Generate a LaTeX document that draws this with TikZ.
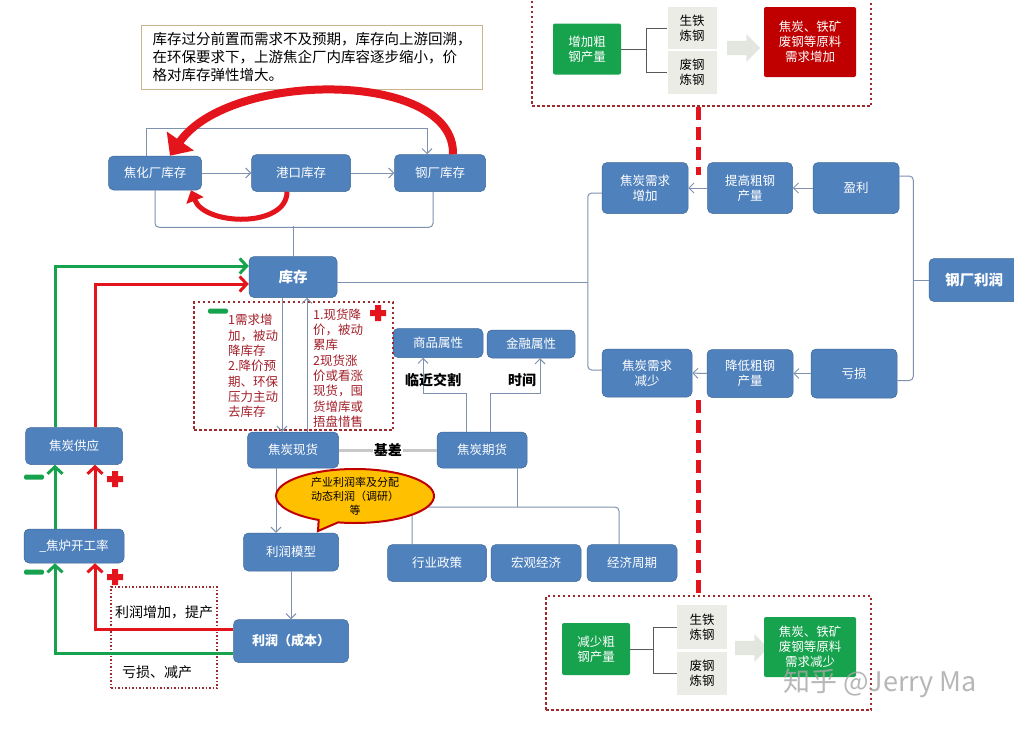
\documentclass[tikz,border=0pt]{standalone}
\usepackage{fontspec}
\setmainfont{Noto Sans CJK SC}
\usetikzlibrary{
  arrows.meta,
  shapes.geometric,
  shapes.callouts,
  shapes.arrows,
  positioning,
  calc
}
\definecolor{cokeBlue}{HTML}{4F81BD}
\definecolor{cokeLink}{HTML}{7F91AE}
\definecolor{cokeGreen}{HTML}{17A24E}
\definecolor{cokeRed}{HTML}{E3141C}
\definecolor{cokeDeep}{HTML}{C00000}
\definecolor{cokeFrame}{HTML}{9E2A30}
\definecolor{cokeText}{HTML}{A3202A}
\definecolor{cokeGray}{HTML}{ECECE7}
\definecolor{cokeArrow}{HTML}{E3E5DF}
\definecolor{cokeTan}{HTML}{C9B48E}
\definecolor{cokeCall}{HTML}{FFC000}
\definecolor{cokeBasis}{HTML}{C8C8C8}
\tikzset{
  bluebox/.style={
    draw=cokeBlue!80!black, line width=0.5pt, fill=cokeBlue, rounded corners=5pt,
    text=white, align=center, inner sep=0pt, minimum width=90pt, minimum height=37pt,
    font=\fontsize{12.5}{15}\selectfont
  },
  boldbox/.style={bluebox, font=\fontsize{14.5}{17}\selectfont\bfseries},
  greenbox/.style={bluebox, draw=none, fill=cokeGreen, rounded corners=2pt, minimum width=68pt, minimum height=52pt},
  rawbox/.style={bluebox, draw=none, rounded corners=2pt, minimum width=92pt},
  graybox/.style={fill=cokeGray, text=black, align=center, inner sep=0pt, minimum width=49pt, minimum height=43pt,
    font=\fontsize{12.5}{15}\selectfont},
  frame/.style={draw=cokeFrame, line width=2.5pt, dash pattern=on 2.5pt off 2.5pt, inner sep=0pt},
  thinframe/.style={frame, line width=1.3pt, dash pattern=on 1.5pt off 2pt},
  link/.style={draw=cokeLink, line width=1pt},
  linkto/.style={link, -{Straight Barb[length=5pt,width=10pt]}},
  greenarrow/.style={draw=cokeGreen, line width=3pt, -{Straight Barb[length=7pt,width=15pt]}},
  redarrow/.style={draw=cokeRed, line width=3pt, -{Straight Barb[length=7pt,width=15pt]}},
  bigcurve/.style={draw=cokeRed, line width=8pt, -{Triangle[length=18pt,width=32pt]}},
  smallcurve/.style={draw=cokeRed, line width=5pt, -{Triangle[length=11pt,width=18pt]}},
  reddash/.style={draw=cokeRed, line width=5pt, dash pattern=on 13pt off 7pt},
  treeline/.style={draw=black!65, line width=1pt},
  basisline/.style={draw=cokeBasis, line width=3pt},
  blockarrow/.style={single arrow, fill=cokeArrow, inner sep=7pt, single arrow head extend=6.5pt, minimum height=33pt},
  rednote/.style={text=cokeText, align=left, inner sep=0pt, anchor=west, font=\fontsize{12.5}{15.3}\selectfont},
  tag/.style={font=\fontsize{14}{16}\selectfont\bfseries, inner sep=1pt},
  plain/.style={font=\fontsize{14}{16}\selectfont, inner sep=0pt, anchor=west},
  notebox/.style={draw=cokeTan, line width=1pt, fill=white, align=left, inner sep=0pt,
    font=\fontsize{14.5}{18}\selectfont},
  callbox/.style={ellipse callout, draw=cokeDeep, line width=2pt, fill=cokeCall, align=center, inner sep=0pt,
    font=\fontsize{11}{14}\selectfont},
  minusmark/.pic={\fill[cokeGreen, rounded corners=1.5pt] (-10,-2.5) rectangle (10,2.5);},
  plusmark/.pic={\fill[cokeRed] (-8,-3) rectangle (8,3) (-3,-8) rectangle (3,8);}
}

\begin{document}
\begin{tikzpicture}[x=1pt, y=-1pt]
  \fill[white] (0,0) rectangle (1014,728);
  \useasboundingbox (0,0) rectangle (1014,728);

  \node[notebox, minimum width=341pt, minimum height=64pt] (note) at (312,57)
    {库存过分前置而需求不及预期，库存向上游回溯，\\在环保要求下，上游焦企厂内库容逐步缩小，价\\格对库存弹性增大。};

  \node[bluebox, minimum width=93pt, minimum height=34pt] (cokeInv) at (155,173) {焦化厂库存};
  \node[bluebox, minimum width=99pt] (portInv) at (301,173) {港口库存};
  \node[bluebox, minimum width=91pt] (millInv) at (440,173) {钢厂库存};
  \node[boldbox, minimum width=88pt, minimum height=41pt] (inv) at (293,277) {库存};
  \node[bluebox, minimum width=91pt, minimum height=36pt] (spot) at (293,450) {焦炭现货};
  \node[bluebox, minimum height=36pt] (futures) at (482,450) {焦炭期货};
  \node[bluebox, minimum height=29pt] (commodity) at (438,343) {商品属性};
  \node[bluebox, minimum width=88pt, minimum height=28pt] (finance) at (531,344) {金融属性};
  \node[bluebox, minimum width=97pt] (supply) at (74,446) {焦炭供应};
  \node[bluebox, minimum width=100pt, minimum height=34pt] (ovenRate) at (74,546) {\_焦炉开工率};
  \node[bluebox, minimum width=95pt, minimum height=38pt] (profitModel) at (291,552) {利润模型};
  \node[boldbox, minimum width=115pt, minimum height=43pt, font=\fontsize{13}{15}\selectfont\bfseries] (profit) at (291,641) {利润（成本）};
  \node[bluebox, minimum width=99pt] (policy) at (437,563) {行业政策};
  \node[bluebox] (macro) at (536,563) {宏观经济};
  \node[bluebox] (cycle) at (632,563) {经济周期};

  \node[bluebox, minimum width=86pt, minimum height=51pt] (demandUp) at (645,188) {焦炭需求\\增加};
  \node[bluebox, minimum width=85pt, minimum height=51pt] (raiseOut) at (750,188) {提高粗钢\\产量};
  \node[bluebox, minimum width=86pt, minimum height=51pt] (gain) at (856,188) {盈利};
  \node[boldbox, minimum height=43pt] (millProfit) at (974,280) {钢厂利润};
  \node[bluebox, minimum height=48pt] (demandDown) at (647,373) {焦炭需求\\减少};
  \node[bluebox, minimum width=86pt, minimum height=48pt] (cutOut) at (750,373.5) {降低粗钢\\产量};
  \node[bluebox, minimum width=86pt, minimum height=49pt] (loss) at (854,373.5) {亏损};

  \node[frame, minimum width=339pt, minimum height=111pt] (frameUp) at (701.5,50.5) {};
  \node[greenbox, minimum height=51pt] (addOut) at (587,49) {增加粗\\钢产量};
  \node[graybox, minimum height=42pt] (pigUp) at (692,28) {生铁\\炼钢};
  \node[graybox] (scrapUp) at (692,72) {废钢\\炼钢};
  \node[blockarrow] (arrUp) at (740,48) {};
  \node[rawbox, fill=cokeDeep, minimum height=70pt] (rawUp) at (810,42) {焦炭、铁矿\\废钢等原料\\需求增加};
  \draw[treeline] (addOut.east) -- ++(25,0) |- (pigUp.west);
  \draw[treeline] (addOut.east) ++(25,0) |- (scrapUp.west);

  \node[frame, minimum width=325pt, minimum height=114pt] (frameDown) at (708.5,653) {};
  \node[greenbox] (reduceOut) at (596,649) {减少粗\\钢产量};
  \node[graybox, minimum width=50pt, minimum height=44pt] (pigDown) at (702,627) {生铁\\炼钢};
  \node[graybox, minimum width=50pt] (scrapDown) at (702,673) {废钢\\炼钢};
  \node[blockarrow] (arrDown) at (748,648) {};
  \node[rawbox, fill=cokeGreen, minimum height=60pt] (rawDown) at (810,647) {焦炭、铁矿\\废钢等原料\\需求减少};
  \draw[treeline] (reduceOut.east) -- ++(23,0) |- (pigDown.west);
  \draw[treeline] (reduceOut.east) ++(23,0) |- (scrapDown.west);

  \coordinate (dashTop) at (698,175);
  \coordinate (dashBot) at (698,400);
  \draw[reddash] (frameUp.south -| dashTop) -- (dashTop);
  \draw[reddash] (dashBot) -- (dashBot |- frameDown.north);

  \draw[linkto] (cokeInv.east) -- (portInv.west);
  \draw[linkto] (portInv.east) -- (millInv.west);
  \draw[linkto] ([xshift=-9pt]cokeInv.north) -- ++(0,-27) -| ([xshift=-13pt]millInv.north);
  \draw[link, rounded corners=4pt] (cokeInv.south) -- ++(0,37) -| ([xshift=-7pt]millInv.south);
  \draw[link] (inv.north) -- ++(0,-30);
  \draw[bigcurve] ([xshift=13pt]millInv.north) .. controls (455,70) and (230,70) .. ([xshift=15pt]cokeInv.north);
  \draw[smallcurve] ([xshift=-14pt]portInv.south) .. controls (287,228) and (205,226) .. ([xshift=36pt]cokeInv.south);

  \node[frame, minimum width=199pt, minimum height=128pt] (frameInv) at (293.5,366) {};
  \draw[linkto] ([xshift=-11pt]inv.south) -- ([xshift=-11pt]spot.north);
  \draw[linkto] ([xshift=14pt]spot.north) -- ([xshift=14pt]inv.south);
  \node[rednote] (downTxt) at (228,366) {1需求增\\加，被动\\降库存\\2.降价预\\期、环保\\压力主动\\去库存};
  \node[rednote] (upTxt) at (313,368) {1.现货降\\价，被动\\累库\\2现货涨\\价或看涨\\现货，囤\\货增库或\\捂盘惜售};
  \pic at (218,311) {minusmark};
  \pic at (378,313) {plusmark};

  \draw[basisline] (spot.east) -- node[tag, fill=white] (basis) {基差} (futures.west);
  \draw[linkto] ([xshift=-16pt]futures.north) -- ++(0,-38) -| ([xshift=-15pt]commodity.south);
  \draw[linkto] ([xshift=8pt]futures.north) -- ++(0,-38) -| ([xshift=9pt]finance.south);
  \node[tag] (nearTag) at (433,380) {临近交割};
  \node[tag] (timeTag) at (522,380) {时间};

  \coordinate (fork) at (517,507);
  \draw[link, rounded corners=4pt] ([xshift=-25pt]policy.north) |- (fork) -| ([xshift=-13pt]cycle.north);
  \draw[link] ([xshift=35pt]futures.south) -- (fork);

  \draw[linkto] ([xshift=-17pt]spot.south) -- ([xshift=-17pt]spot.south |- profitModel.north);
  \draw[linkto] (profitModel.south) -- (profit.north);
  \node[callbox, callout absolute pointer={(318,531)}, minimum width=158pt, minimum height=47pt] (ratioNote) at (355,496)
    {产业利润率及分配\\动态利润（调研）\\等};

  \draw[link, rounded corners=4pt] ([yshift=-5pt]demandUp.west) -- ++(-14,0) |- ([yshift=3pt]demandDown.west);
  \draw[link] ([yshift=-5pt]inv.east) -- ++(251,0);
  \draw[linkto] (gain) -- (raiseOut);
  \draw[linkto] (raiseOut) -- (demandUp);
  \draw[linkto] (loss) -- (cutOut);
  \draw[linkto] (cutOut) -- (demandDown);
  \draw[link, rounded corners=4pt] ([yshift=12pt]gain.east) -- ++(14,0) |- ([yshift=-7pt]loss.east);
  \draw[link] (millProfit.west) -- ++(-16,0);

  \draw[greenarrow] ([xshift=-19pt]supply.north) |- ([yshift=11pt]inv.west);
  \draw[redarrow] ([xshift=21pt]supply.north) |- ([yshift=-7pt]inv.west);
  \draw[greenarrow] ([xshift=-19pt]ovenRate.north) -- ([xshift=-19pt]supply.south);
  \draw[redarrow] ([xshift=21pt]ovenRate.north) -- ([xshift=21pt]supply.south);
  \pic at (34,477) {minusmark};
  \pic at (115,479) {plusmark};
  \pic at (34,572) {minusmark};
  \pic at (115,577) {plusmark};

  \node[thinframe, minimum width=106pt, minimum height=101pt] (frameProfit) at (164,637.5) {};
  \draw[redarrow] ([yshift=12pt]profit.west) -| ([xshift=21pt]ovenRate.south);
  \draw[greenarrow] ([yshift=-12pt]profit.west) -| ([xshift=-19pt]ovenRate.south);
  \node[plain] (gainTxt) at (115,612) {利润增加，提产};
  \node[plain] (lossTxt) at (122,672) {亏损、减产};

  \node[font=\fontsize{27}{30}\selectfont, text=black!35, opacity=0.8] (mark) at (880,683) {知乎 @Jerry Ma};
\end{tikzpicture}
\end{document}
